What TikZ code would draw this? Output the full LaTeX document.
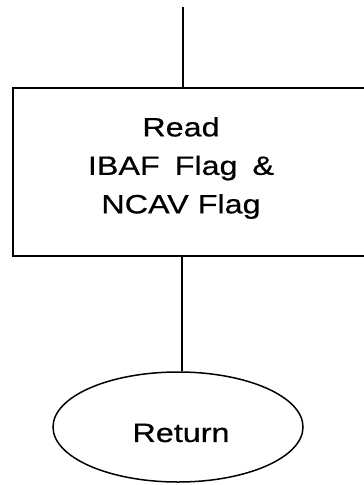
\documentclass[tikz,border=0pt]{standalone}
\usepackage{fontspec}
\usetikzlibrary{shapes.geometric}
\newfontfamily\labfont[FakeStretch=1.22,FakeBold=0.6]{Liberation Sans}
\begin{document}
\begin{tikzpicture}[x=1pt,y=-1pt,
  line width=1.5pt,
  procbox/.style={draw, rectangle, minimum width=359pt, minimum height=168pt, inner sep=0pt},
  termbox/.style={draw, ellipse, minimum width=250pt, minimum height=110pt, inner sep=0pt},
  lab/.style={font=\labfont\fontsize{26.5}{38.5}\selectfont, inner sep=0pt, align=center}]
\useasboundingbox (0,0) rectangle (364,485);
\coordinate (top) at (183,7);
\coordinate (mid) at (182,300);
\node[procbox] (box) at (192.5,172) {};
\node[lab] (boxtext) at (181,168) {Read\\IBAF\hspace{6pt} Flag\hspace{6pt} \&\\NCAV Flag};
\node[termbox] (ret) at (178,427) {};
\node[lab] (rettext) at (181,433) {Return};
\draw (top) -- (top |- box.north);
\draw (box.south -| mid) -- (ret.north -| mid);
\end{tikzpicture}
\end{document}
